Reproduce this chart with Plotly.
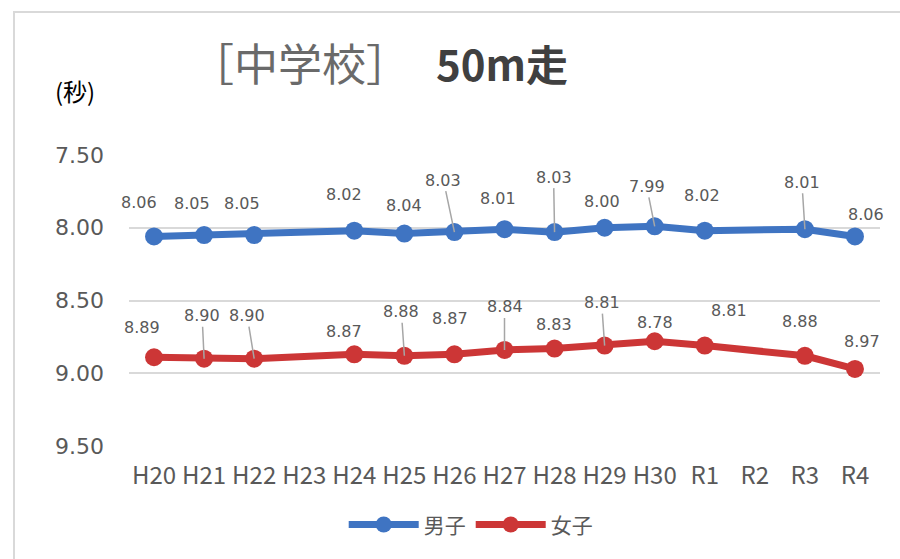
import plotly.graph_objects as go

categories = ["H20", "H21", "H22", "H23", "H24", "H25", "H26", "H27", "H28", "H29", "H30", "R1", "R2", "R3", "R4"]
boys = [8.06, 8.05, 8.05, None, 8.02, 8.04, 8.03, 8.01, 8.03, 8.00, 7.99, 8.02, None, 8.01, 8.06]
girls = [8.89, 8.90, 8.90, None, 8.87, 8.88, 8.87, 8.84, 8.83, 8.81, 8.78, 8.81, None, 8.88, 8.97]
y_ticks = [7.5, 8.0, 8.5, 9.0, 9.5]
y_ticktext = ["7.50", "8.00", "8.50", "9.00", "9.50"]

# label placement styles (pixel offsets, leader-line flag)
boys_lbl = [(-15, -34, False), (-12, -32, False), (-12, -32, False), None, (-10, -36, False),
            (0, -28, False), (-11, -52, True), (-7, -31, False), (-1, -55, True), (-3, -26, False),
            (-8, -40, True), (-3, -35, False), None, (-3, -47, True), (11, -22, False)]
girls_lbl = [(-12, -30, False), (-2, -43, True), (-7, -43, True), None, (-10, -23, False),
             (-3, -44, True), (-4, -36, False), (0, -43, True), (-1, -24, False), (-3, -43, True),
             (0, -19, False), (24, -35, False), None, (-5, -34, False), (7, -27, False)]

BLUE = "#3F74C2"
RED = "#CC3636"
GRAY = "#595959"

fig = go.Figure()
fig.add_trace(go.Scatter(x=categories, y=boys, name="男子", mode="lines+markers",
                         connectgaps=True, line=dict(color=BLUE, width=7),
                         marker=dict(color=BLUE, size=18)))
fig.add_trace(go.Scatter(x=categories, y=girls, name="女子", mode="lines+markers",
                         connectgaps=True, line=dict(color=RED, width=7),
                         marker=dict(color=RED, size=18)))

annotations = []
for series, styles in ((boys, boys_lbl), (girls, girls_lbl)):
    for cat, v, st in zip(categories, series, styles):
        if v is None or st is None:
            continue
        dx, dy, leader = st
        if leader:
            annotations.append(dict(x=cat, y=v, text=f"{v:.2f}", showarrow=True,
                                    ax=dx, ay=dy, arrowhead=0, arrowwidth=1.5,
                                    arrowcolor="#A6A6A6", standoff=0, startstandoff=0,
                                    font=dict(family="DejaVu Sans", size=16, color=GRAY)))
        else:
            annotations.append(dict(x=cat, y=v, text=f"{v:.2f}", showarrow=False,
                                    xshift=dx, yshift=-dy,
                                    font=dict(family="DejaVu Sans", size=16, color=GRAY)))

# title and unit
annotations.append(dict(xref="paper", yref="paper", x=0.333, y=1.325, xanchor="center", yanchor="middle",
                        showarrow=False,
                        text="<span style='color:#6a6a6a;font-size:44px'>［中学校］</span>"
                             "<span style='font-size:48px'>　</span>"
                             "<b style='color:#404040;font-size:42px'>50m走</b>",
                        font=dict(family="Noto Sans CJK JP", size=42, color="#595959")))
annotations.append(dict(xref="paper", yref="paper", x=-0.072, y=1.22, xanchor="center", yanchor="middle",
                        showarrow=False, text="(秒)",
                        font=dict(family="Noto Sans CJK JP", size=24, color="#000000")))

fig.update_layout(
    width=900, height=559,
    margin=dict(l=129, r=20, t=155, b=113),
    paper_bgcolor="white", plot_bgcolor="white",
    annotations=annotations,
    showlegend=True,
    legend=dict(orientation="h", x=0.455, y=-0.271, xanchor="center", yanchor="middle",
                font=dict(family="Noto Sans CJK JP", size=21, color=GRAY), itemwidth=70),
    shapes=[dict(type="rect", xref="paper", yref="paper", x0=-0.1531, x1=1.1, y0=-0.5, y1=1.4914,
                 line=dict(color="#D9D9D9", width=2), layer="below")],
)
fig.update_xaxes(type="category", categoryorder="array", categoryarray=categories,
                 range=[-0.5, len(categories) - 0.5], showgrid=False, showline=False,
                 ticks="", ticklabelstandoff=13,
                 tickfont=dict(family="Noto Sans CJK JP", size=24, color=GRAY))
fig.update_yaxes(autorange=False, range=[9.5, 7.5], tickvals=y_ticks, ticktext=y_ticktext,
                 showgrid=True, gridcolor="#D9D9D9", gridwidth=2, zeroline=False, showline=False,
                 ticks="", ticklabelstandoff=24,
                 tickfont=dict(family="DejaVu Sans", size=22, color=GRAY))

fig.write_html("out.html")
